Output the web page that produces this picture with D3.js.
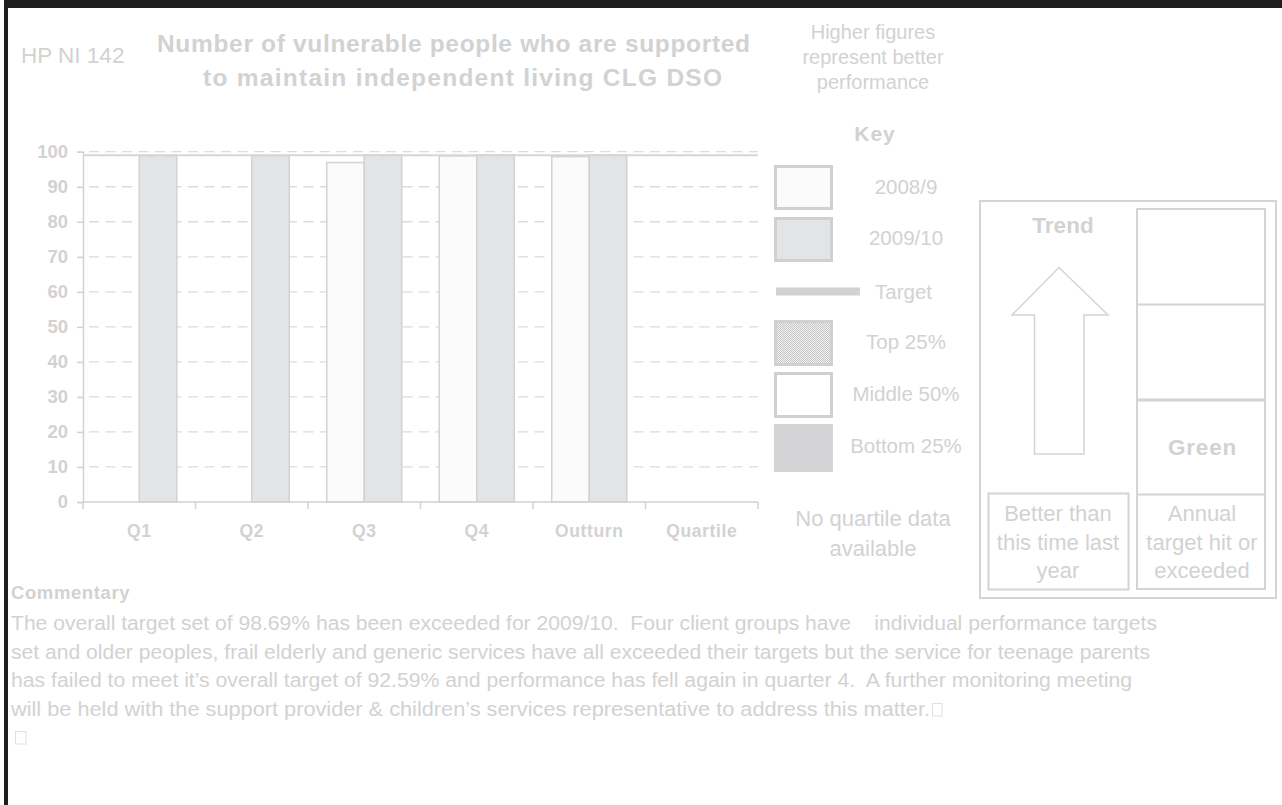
<!DOCTYPE html>
<html><head><meta charset="utf-8">
<script src="https://cdn.jsdelivr.net/npm/d3@7"></script>
<style>
html,body{margin:0;padding:0;background:#fff;}
svg text{font-family:"Liberation Sans",Arial,sans-serif;fill:#d2d2d2;white-space:pre;}
</style></head>
<body>
<svg id="c" width="1282" height="805"></svg>
<script>
const categories = ["Q1","Q2","Q3","Q4","Outturn","Quartile"];
const seriesNames = ["2008/9","2009/10"];
const values2008 = [null, null, 96.9, 98.8, 98.6, null];
const values2009 = [98.9, 98.9, 99.1, 99.1, 99.1, null];
const targetValue = 99.0;
const yTicks = [0,10,20,30,40,50,60,70,80,90,100];
const titleLines = ["Number of vulnerable people who are supported","to maintain independent living CLG DSO"];
const noteLines = ["Higher figures","represent better","performance"];
const keyLabels = ["2008/9","2009/10","Target","Top 25%","Middle 50%","Bottom 25%"];
const quartileNote = ["No quartile data","available"];
const trendText = ["Better than","this time last","year"];
const ragText = ["Annual","target hit or","exceeded"];
const commentaryLines = [
 "The overall target set of 98.69% has been exceeded for 2009/10.  Four client groups have    individual performance targets",
 "set and older peoples, frail elderly and generic services have all exceeded their targets but the service for teenage parents",
 "has failed to meet it\u2019s overall target of 92.59% and performance has fell again in quarter 4.  A further monitoring meeting",
 "will be held with the support provider & children\u2019s services representative to address this matter."
];
const commentaryWidths = [1146, 1139, 1121, 919];
const titleWidths = [593, 519];
const titleCenters = [453.5, 462.5];

const svg = d3.select("#c");
const gray = "#d2d2d2";
const txt = "#d2d2d2";

// frame
svg.append("rect").attr("x",4).attr("y",0).attr("width",1278).attr("height",8).attr("fill","#1f1f1f");
svg.append("rect").attr("x",4).attr("y",0).attr("width",4).attr("height",805).attr("fill","#1f1f1f");

// pattern
const defs = svg.append("defs");
const pat = defs.append("pattern").attr("id","dots").attr("width",2).attr("height",2).attr("patternUnits","userSpaceOnUse");
pat.append("rect").attr("width",2).attr("height",2).attr("fill","#f2f2f2");
pat.append("rect").attr("width",1).attr("height",1).attr("fill","#c4c4c4");
pat.append("rect").attr("x",1).attr("y",1).attr("width",1).attr("height",1).attr("fill","#c4c4c4");

// titles
svg.append("text").attr("x",21).attr("y",63).attr("font-size",22.5).text("HP NI 142");
svg.append("g").selectAll("text").data(titleLines).join("text")
  .attr("x",(d,i)=>titleCenters[i]).attr("y",(d,i)=>52+i*34).attr("text-anchor","middle")
  .attr("font-size",24.5).attr("font-weight","bold")
  .attr("textLength",(d,i)=>titleWidths[i]).attr("lengthAdjust","spacing").text(d=>d);
svg.append("g").selectAll("text").data(noteLines).join("text")
  .attr("x",873).attr("y",(d,i)=>39+i*25).attr("text-anchor","middle")
  .attr("font-size",20).text(d=>d);
svg.append("text").attr("x",875).attr("y",141).attr("text-anchor","middle")
  .attr("font-size",21).attr("font-weight","bold").attr("letter-spacing",1).text("Key");

// scales
const x = d3.scaleBand().domain(categories).range([83,758]).padding(0);
const x1 = d3.scaleBand().domain(seriesNames).range([x.bandwidth()/6, x.bandwidth()*5/6]);
const y = d3.scaleLinear().domain([0,100]).range([502,151.7]);

// gridlines
svg.append("g").selectAll("line").data(yTicks.filter(t=>t>0)).join("line")
  .attr("x1",89).attr("x2",758).attr("y1",d=>y(d)).attr("y2",d=>y(d))
  .attr("stroke","#dcdcdc").attr("stroke-width",1.3).attr("stroke-dasharray","10,6.5");

// y axis
const ya = svg.append("g").attr("transform","translate(83,0)")
  .call(d3.axisLeft(y).tickValues(yTicks).tickSize(6).tickPadding(9));
ya.select(".domain").attr("stroke",gray).attr("stroke-width",1.5);
ya.selectAll(".tick line").attr("stroke",gray).attr("stroke-width",1.5);
ya.selectAll(".tick text").attr("font-size",18.5).attr("font-weight","bold")
  .attr("font-family","Liberation Sans, Arial, sans-serif").attr("fill",txt);

// bars
const rows = categories.map((c,i)=>({c, vals:[values2008[i], values2009[i]]}));
const fills = ["#fbfbfb","#e3e4e6"];
const bg = svg.append("g");
rows.forEach(r=>{
  r.vals.forEach((v,j)=>{
    if(v==null) return;
    bg.append("rect")
      .attr("x",x(r.c)+x1(seriesNames[j]))
      .attr("y",y(v))
      .attr("width",x1.bandwidth())
      .attr("height",y(0)-y(v))
      .attr("fill",fills[j]).attr("stroke",gray).attr("stroke-width",1.5);
  });
});

// target line
svg.append("line").attr("x1",83).attr("x2",758).attr("y1",y(targetValue)).attr("y2",y(targetValue))
  .attr("stroke","#d6d6d6").attr("stroke-width",2);

// x axis
const xa = svg.append("g").attr("transform","translate(0,502)")
  .call(d3.axisBottom(x).tickSize(0).tickPadding(35));
xa.select(".domain").remove();
xa.selectAll(".tick text").attr("font-size",17.5).attr("font-weight","bold").attr("letter-spacing",0.6)
  .attr("font-family","Liberation Sans, Arial, sans-serif").attr("fill",txt).attr("dy",0);
svg.append("line").attr("x1",83).attr("x2",758).attr("y1",502).attr("y2",502).attr("stroke",gray).attr("stroke-width",1.5);
const bounds = categories.map(c=>x(c)).concat([x.range()[1]]);
svg.append("g").selectAll("line").data(bounds).join("line")
  .attr("x1",d=>d).attr("x2",d=>d).attr("y1",502).attr("y2",509)
  .attr("stroke",gray).attr("stroke-width",1.5);

// legend
const sw = [
  {y:165,h:45,fill:"#fbfbfb",stroke:true},
  {y:217,h:45,fill:"#e3e4e6",stroke:true},
  null,
  {y:320,h:46,fill:"url(#dots)",stroke:true},
  {y:372,h:46,fill:"#ffffff",stroke:true},
  {y:424,h:48,fill:"#d4d4d6",stroke:false}
];
const lg = svg.append("g");
sw.forEach((s,i)=>{
  if(!s) return;
  lg.append("rect").attr("x",775.5).attr("y",s.y+1.5).attr("width",56).attr("height",s.h-3)
    .attr("fill",s.fill).attr("stroke",s.stroke? "#d0d0d0":"#d4d4d6").attr("stroke-width",3);
});
lg.append("rect").attr("x",776).attr("y",287.5).attr("width",84).attr("height",8).attr("fill","#d2d2d2");
const labelY = [194,245,299,349,401,453];
lg.selectAll("text").data(keyLabels).join("text")
  .attr("x",(d,i)=> i===2 ? 875 : 906).attr("y",(d,i)=>labelY[i])
  .attr("text-anchor",(d,i)=> i===2 ? "start":"middle")
  .attr("font-size",20.5).text(d=>d);
svg.append("g").selectAll("text").data(quartileNote).join("text")
  .attr("x",873).attr("y",(d,i)=>526+i*30).attr("text-anchor","middle")
  .attr("font-size",22).text(d=>d);

// trend box
const tb = svg.append("g").attr("fill","none").attr("stroke","#d4d4d4").attr("stroke-width",2);
tb.append("rect").attr("x",980).attr("y",201).attr("width",296).attr("height",397);
tb.append("rect").attr("x",1137).attr("y",209).attr("width",128).attr("height",380);
tb.append("line").attr("x1",1137).attr("x2",1265).attr("y1",304.5).attr("y2",304.5);
tb.append("line").attr("x1",1137).attr("x2",1265).attr("y1",400).attr("y2",400).attr("stroke-width",3);
tb.append("line").attr("x1",1137).attr("x2",1265).attr("y1",494.5).attr("y2",494.5);
tb.append("rect").attr("x",988.5).attr("y",493.5).attr("width",140).attr("height",96);
const arrowPts = [[1059,267.5],[1108,315],[1084,315],[1084,454],[1034.5,454],[1034.5,315],[1012,315]];
tb.append("path").attr("d",d3.line()(arrowPts)+"Z").attr("fill","#fff").attr("stroke-width",1.5);
svg.append("text").attr("x",1063).attr("y",233).attr("text-anchor","middle").attr("font-size",22.5).attr("font-weight","bold").text("Trend");
svg.append("text").attr("x",1202.5).attr("y",455).attr("text-anchor","middle").attr("font-size",22.5).attr("font-weight","bold").attr("letter-spacing",0.8).text("Green");
svg.append("g").selectAll("text").data(trendText).join("text")
  .attr("x",1058).attr("y",(d,i)=>521+i*28.5).attr("text-anchor","middle").attr("font-size",22).text(d=>d);
svg.append("g").selectAll("text").data(ragText).join("text")
  .attr("x",1202).attr("y",(d,i)=>521+i*28.5).attr("text-anchor","middle").attr("font-size",22).text(d=>d);

// commentary
svg.append("text").attr("x",11).attr("y",599).attr("font-size",18.5).attr("font-weight","bold").attr("letter-spacing",0.6).text("Commentary");
svg.append("g").selectAll("text").data(commentaryLines).join("text")
  .attr("x",11).attr("y",(d,i)=>630+i*28.5).attr("font-size",20)
  .attr("textLength",(d,i)=>commentaryWidths[i]).attr("lengthAdjust","spacingAndGlyphs").text(d=>d);
svg.append("rect").attr("x",932.5).attr("y",703.5).attr("width",9.5).attr("height",12.5).attr("fill","none").attr("stroke","#e0e0e0").attr("stroke-width",1);
svg.append("rect").attr("x",15.5).attr("y",731.5).attr("width",10.5).attr("height",12.5).attr("fill","none").attr("stroke","#e0e0e0").attr("stroke-width",1);
</script>
</body></html>
